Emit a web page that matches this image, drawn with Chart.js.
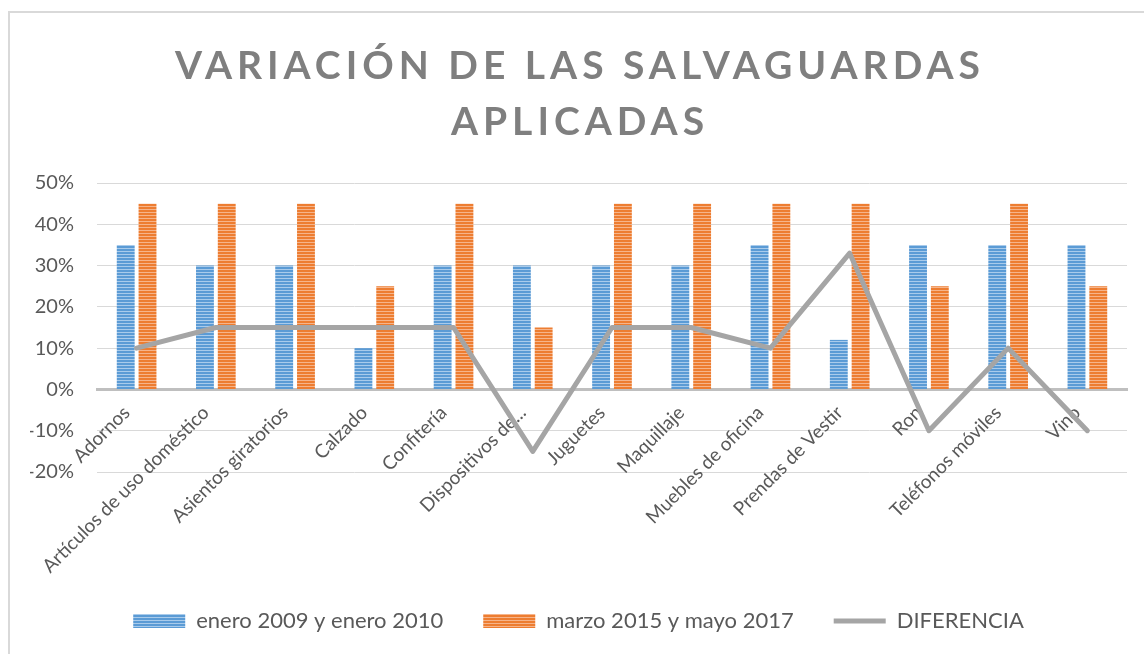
<!DOCTYPE html>
<html>
<head>
<meta charset="utf-8">
<script src="https://cdn.jsdelivr.net/npm/chart.js@4.4.0/dist/chart.umd.min.js"></script>
<style>
    html, body { margin: 0; padding: 0; background: #fff; }
    #wrap { position: relative; width: 1144px; height: 654px; overflow: hidden; }
    #frame { position: absolute; left: 8px; top: 11px; width: 1300px; height: 800px; border-left: 2px solid #d9d9d9; border-top: 2px solid #d9d9d9; }
    #titulo { position: absolute; left: 16px; right: 0; top: 36px; text-align: center; font: bold 39px Lato, sans-serif; letter-spacing: 5px; line-height: 56px; color: #7f7f7f; }
    canvas { position: absolute; left: 0; top: 0; }
</style>
</head>
<body>
<div id="wrap">
    <div id="frame"></div>
    <canvas id="salvaguardas" width="1144" height="654"></canvas>
    <div id="titulo">VARIACIÓN DE LAS SALVAGUARDAS<br>APLICADAS</div>
</div>
<script>
const categorias = ['Adornos', 'Artículos de uso doméstico', 'Asientos giratorios', 'Calzado', 'Confitería',
    'Dispositivos de...', 'Juguetes', 'Maquillaje', 'Muebles de oficina', 'Prendas de Vestir', 'Ron',
    'Teléfonos móviles', 'Vino'];
const enero2009 = [35, 30, 30, 10, 30, 30, 30, 30, 35, 12, 35, 35, 35];
const marzo2015 = [45, 45, 45, 25, 45, 15, 45, 45, 45, 45, 25, 45, 25];
const diferencia = [10, 15, 15, 15, 15, -15, 15, 15, 10, 33, -10, 10, -10];
const ejeMin = -20;
const ejeMax = 50;
const ejePaso = 10;

const ctx = document.getElementById('salvaguardas').getContext('2d');

// relleno de rayas horizontales como en Excel
function rayas(base, clara) {
    const c = document.createElement('canvas');
    c.width = 4;
    c.height = 3;
    const g = c.getContext('2d');
    g.fillStyle = base;
    g.fillRect(0, 0, 4, 3);
    g.fillStyle = clara;
    g.fillRect(0, 2, 4, 1);
    return ctx.createPattern(c, 'repeat');
}

const azul = rayas('#5b9bd5', '#a9cbeb');
const naranja = rayas('#ed7d31', '#f6b48a');

new Chart(ctx, {
    type: 'bar',
    data: {
        labels: categorias,
        datasets: [
            {
                label: 'enero 2009 y enero 2010',
                data: enero2009,
                backgroundColor: azul,
                pointStyle: 'rect',
                categoryPercentage: 0.55,
                barPercentage: 0.82,
                order: 1
            },
            {
                label: 'marzo 2015 y mayo 2017',
                data: marzo2015,
                backgroundColor: naranja,
                pointStyle: 'rect',
                categoryPercentage: 0.55,
                barPercentage: 0.82,
                order: 1
            },
            {
                type: 'line',
                label: 'DIFERENCIA',
                data: diferencia,
                borderColor: '#a5a5a5',
                backgroundColor: '#a5a5a5',
                borderWidth: 5,
                borderJoinStyle: 'round',
                borderCapStyle: 'round',
                pointRadius: 0,
                pointStyle: 'line',
                order: 0
            }
        ]
    },
    options: {
        responsive: false,
        animation: false,
        layout: { padding: { left: 30, right: 17, top: 183, bottom: 12 } },
        plugins: {
            tooltip: { enabled: false },
            legend: {
                position: 'bottom',
                labels: {
                    usePointStyle: true,
                    pointStyleWidth: 52,
                    boxHeight: 14,
                    padding: 40,
                    color: '#595959',
                    font: { family: 'Lato, sans-serif', size: 22 },
                    sort: (a, b) => a.datasetIndex - b.datasetIndex
                }
            }
        },
        scales: {
            x: {
                position: { y: 0 },
                grid: { display: false },
                border: { color: '#bfbfbf', width: 3 },
                ticks: {
                    autoSkip: false,
                    minRotation: 45,
                    maxRotation: 45,
                    padding: 4,
                    labelOffset: -10,
                    color: '#595959',
                    font: { family: 'Lato, sans-serif', size: 19 }
                },
                afterFit: (s) => { s.paddingLeft = 0; s.paddingRight = 0; }
            },
            // eje vacio para dejar sitio a las etiquetas giradas
            xPad: {
                axis: 'x',
                type: 'category',
                position: 'bottom',
                grid: { display: false },
                border: { display: false },
                ticks: { display: false },
                afterFit: (s) => { s.height = 98; }
            },
            y: {
                min: ejeMin,
                max: ejeMax,
                ticks: {
                    stepSize: ejePaso,
                    padding: 23,
                    color: '#595959',
                    font: { family: 'Lato, sans-serif', size: 20 },
                    callback: (v) => v + '%'
                },
                grid: { color: '#d9d9d9', drawTicks: false },
                border: { display: false },
                afterFit: (s) => { s.width = 67; }
            }
        }
    }
});
</script>
</body>
</html>
